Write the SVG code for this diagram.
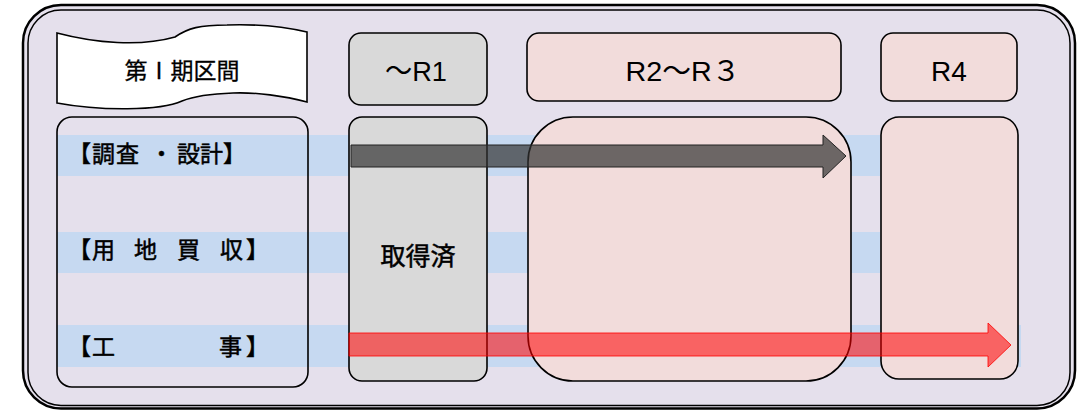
<svg xmlns="http://www.w3.org/2000/svg" width="1091" height="410" viewBox="0 0 1091 410">
<style>
.ol{stroke:#000;stroke-width:1.6;}
.band{fill:#C6D9F1;}
.gray{fill:#D9D9D9;}
.pink{fill:#F2DCDB;}
.jp{font-family:"Noto Sans CJK JP","Noto Sans CJK SC",sans-serif;font-weight:normal;fill:#000;stroke:#000;stroke-width:0.5;}
.hd{font-family:"Liberation Sans","Noto Sans CJK JP",sans-serif;fill:#000;}
</style>
<rect width="1091" height="410" fill="#FFFFFF"/>
<g id="frame">
<rect x="23" y="5" width="1052" height="403.5" rx="38" fill="#E5E0EC" stroke="#000" stroke-width="2.5"/>
<rect x="28" y="10" width="1042" height="395.5" rx="33" fill="none" stroke="#000" stroke-width="1.5"/>
</g>
<g id="bands">
<rect class="band" x="57" y="135" width="823" height="41"/>
<rect class="band" x="57" y="232" width="823" height="41"/>
<rect class="band" x="57" y="325" width="964" height="42"/>
</g>
<g id="banner">
<path d="M57,33 C95,43 140,47 175,37 C188,28 200,25 227,25 C255,24 285,27 307,32 L307,102 C285,96 255,92 233,93 C205,94 192,97 182,101 C160,111 100,111 57,103 Z" fill="#FFFFFF" class="ol"/>
<text class="jp" x="182" y="79" font-size="23" text-anchor="middle" style="stroke-width:0.3">第Ⅰ期区間</text>
</g>
<g id="labels">
<rect x="57" y="117" width="251" height="270" rx="15" fill="none" class="ol"/>
<text class="jp" font-size="23" y="162" x="68 92 116 150 177 200 223">【調査・設計】</text>
<text class="jp" font-size="23" y="258" x="68 92 134 177 220 246">【用地買収】</text>
<text class="jp" font-size="23" y="355" x="68 92 219 246">【工事】</text>
</g>
<g id="r1">
<rect class="gray ol" x="349" y="33" width="138" height="72" rx="12"/>
<text class="hd" x="416" y="81" font-size="28" text-anchor="middle" textLength="62" lengthAdjust="spacingAndGlyphs">～R1</text>
<rect class="gray ol" x="349" y="117" width="138" height="264" rx="13"/>
<text class="jp" x="418" y="265" font-size="25" text-anchor="middle">取得済</text>
</g>
<g id="r2r3">
<rect class="pink ol" x="527" y="33" width="314" height="68" rx="12"/>
<text class="hd" x="683" y="81" font-size="28" text-anchor="middle" textLength="115" lengthAdjust="spacingAndGlyphs">R2～R３</text>
<rect class="pink ol" x="528" y="117" width="323" height="264" rx="45"/>
</g>
<g id="r4">
<rect class="pink ol" x="881" y="33" width="136" height="68" rx="12"/>
<text class="hd" x="949" y="81" font-size="28" text-anchor="middle">R4</text>
<rect class="pink ol" x="881" y="117" width="137" height="262" rx="18"/>
</g>
<g id="connectors">
<path d="M351,145 H823 V135 L846,156 L823,178 V167 H351 Z" fill="#333333" fill-opacity="0.7" stroke="#222" stroke-width="1"/>
<path d="M349,333 H988 V323 L1011,345 L988,367 V356 H349 Z" fill="#FF0000" fill-opacity="0.55" stroke="#FF0000" stroke-opacity="0.8" stroke-width="1"/>
</g>
</svg>
